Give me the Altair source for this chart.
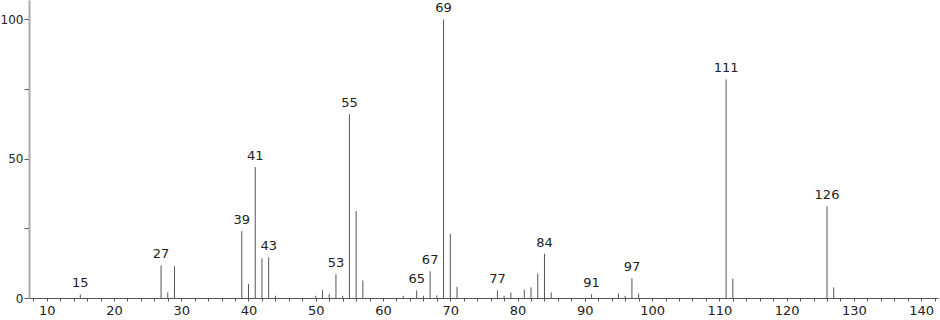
import altair as alt
import pandas as pd

mz = [15, 27, 28, 29, 39, 40, 41, 42, 43, 44, 50, 51, 52, 53, 54, 55, 56, 57,
      63, 65, 66, 67, 68, 69, 70, 71, 77, 78, 79, 81, 82, 83, 84, 85, 91,
      95, 96, 97, 98, 111, 112, 126, 127]
intensity = [1.3, 11.7, 2.0, 11.4, 24.0, 5.0, 47.0, 14.2, 14.6, 0.8, 0.8, 2.8, 1.5, 8.5, 0.8, 66.0, 31.2, 6.3,
             0.8, 2.7, 0.8, 9.6, 0.9, 100.0, 23.0, 4.0, 2.7, 0.8, 2.0, 3.0, 3.8, 8.8, 15.9, 2.0, 1.3,
             1.6, 0.8, 7.1, 1.6, 78.5, 6.9, 32.9, 3.8]
labeled = [15, 27, 39, 41, 43, 53, 55, 65, 67, 69, 77, 84, 91, 97, 111, 126]

df = pd.DataFrame({"mz": mz, "intensity": intensity})
df["label"] = [str(m) if m in labeled else "" for m in mz]

FONT = "DejaVu Sans"

xscale = alt.Scale(domain=[7.37, 142.5], nice=False, zero=False)
yscale = alt.Scale(domain=[0, 107], nice=False)

xaxis = alt.Axis(
    values=list(range(8, 143, 2)),
    labelExpr="datum.value % 10 == 0 ? datum.label : ''",
    labelOverlap=False,
    title=None, grid=False, domainColor="#555", domainWidth=1,
    tickColor="#555", tickSize=3, labelPadding=3,
    labelFont=FONT, labelFontSize=13, labelColor="#222", labelFlush=False,
)
yaxis = alt.Axis(
    values=[0, 25, 50, 75, 100],
    labelExpr="datum.value % 50 == 0 ? datum.label : ''",
    labelOverlap=False,
    title=None, grid=False, domainColor="#aaa", domainWidth=2,
    tickColor="#555", tickSize=5, labelPadding=1,
    labelFont=FONT, labelFontSize=12, labelColor="#222", labelFlush=False,
)

base = alt.Chart(df)

rules = base.mark_rule(color="#555", strokeWidth=1).encode(
    x=alt.X("mz:Q", scale=xscale, axis=xaxis),
    y=alt.Y("intensity:Q", scale=yscale, axis=yaxis),
    y2=alt.datum(0),
)

texts = base.mark_text(
    baseline="bottom", align="center", dy=-4, font=FONT, fontSize=13, color="#222"
).encode(
    x=alt.X("mz:Q", scale=xscale, axis=xaxis),
    y=alt.Y("intensity:Q", scale=yscale, axis=yaxis),
    text="label:N",
)

chart = (rules + texts).properties(
    width=909, height=298,
    autosize=alt.AutoSizeParams(type="none"),
    padding={"left": 29, "top": 0, "right": 2, "bottom": 22},
    background="white",
).configure_view(stroke=None)

chart.save("out.html", embed_options={"renderer": "svg", "actions": False})
